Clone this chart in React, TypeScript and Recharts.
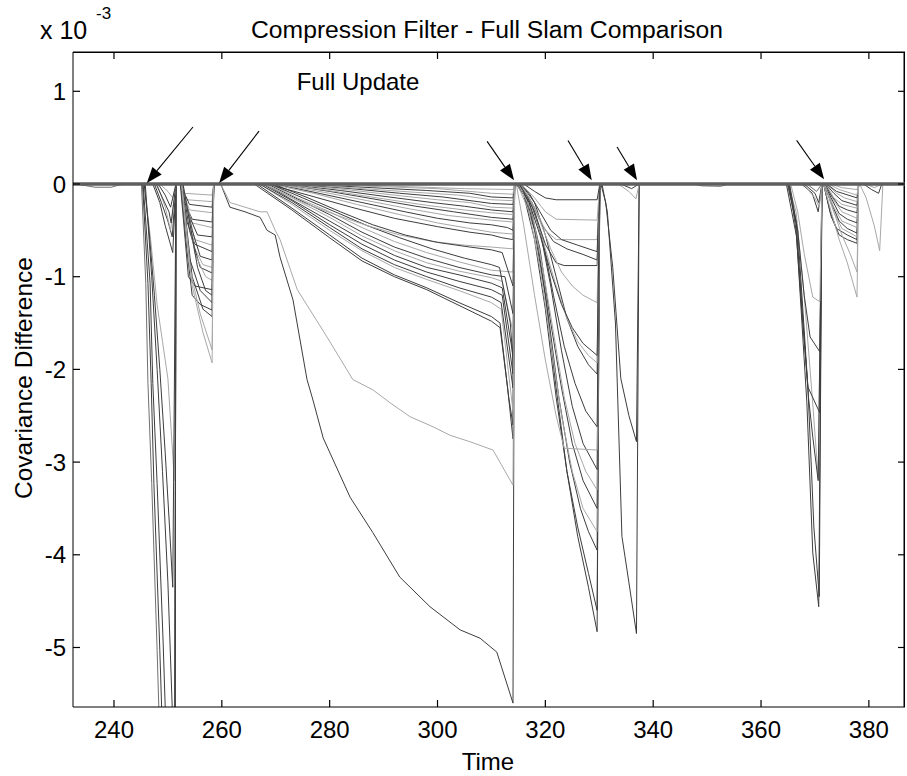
import React from 'react';
import { LineChart, Line, XAxis, YAxis, ReferenceLine, Customized } from 'recharts';

type Pt = [number, number];

const X_TICKS = [240, 260, 280, 300, 320, 340, 360, 380];
const Y_TICKS = [1, 0, -1, -2, -3, -4, -5];
const X_DOMAIN: [number, number] = [232.4, 386.7];
const Y_DOMAIN: [number, number] = [-5.642, 1.424];

const TITLE = 'Compression Filter - Full Slam Comparison';
const X_LABEL = 'Time';
const Y_LABEL = 'Covariance Difference';
const ANNOTATION = 'Full Update';

const BASELINE: Pt[][] = [[[232.4, 0], [386.7, 0]]];
const BASELINE_TONE = 'b';

const QUIET: Pt[][] = [
  [[233, 0], [234.5, -0.015], [236.5, -0.035], [239.5, -0.035], [241, -0.01], [242.5, 0]],
  [[347.5, 0], [349, -0.02], [352.5, -0.025], [354, 0]],
];
const QUIET_TONE = 'mm';

const SEG_B1: Pt[][] = [
  [[245.1, 0], [245.9, -1.07], [246.3, -2.15], [247.0, -3.23], [248.0, -5.03], [248.6, -6.2], [251.3, -6.2], [251.5, 0]],
  [[245.3, 0], [246.3, -1.07], [246.9, -2.15], [247.4, -3.23], [248.5, -5.03], [249.2, -6.3], [251.3, -6.3], [251.5, 0]],
  [[245.4, 0], [246.7, -1.07], [247.2, -2.15], [248.0, -3.23], [249.1, -4.92], [249.7, -6.0], [251.3, -6.0], [251.5, 0]],
  [[245.6, 0], [246.8, -0.6], [248, -1.3], [249, -1.7], [250, -2.1], [251.2, -3.2], [251.5, 0]],
  [[245.6, 0], [246.5, -0.5], [247.5, -1.2], [248.5, -2.0], [249.5, -2.9], [250.3, -3.7], [250.9, -4.35], [251.5, 0]],
  [[245.8, 0], [247, -1.0], [248, -2.0], [249, -3.1], [250, -4.3], [250.8, -5.64], [251.0, -6.1], [251.3, -6.1], [251.5, 0]],
];
const SEG_B1_TONE = 'mddgdd';

const SEG_B2: Pt[][] = [
  [[247.2, 0], [248.5, -0.2], [249.5, -0.45], [250.9, -0.74], [251.5, 0]],
  [[247.5, 0], [248.8, -0.2], [250, -0.4], [250.8, -0.57], [251.5, 0]],
  [[248, 0], [249.5, -0.25], [250.5, -0.5], [251.5, 0]],
  [[247.8, 0], [249, -0.15], [250.2, -0.3], [250.6, -0.42], [251.5, 0]],
  [[248.5, 0], [250, -0.08], [250.9, -0.15], [251.5, 0]],
  [[248.2, 0], [249.5, -0.12], [250.5, -0.25], [251.5, 0]],
];
const SEG_B2_TONE = 'ddgdgd';

const SEG_C: Pt[][] = [
  [[252.2, 0], [253, -0.1], [258.2, -0.12], [258.5, 0]],
  [[252.2, 0], [253.5, -0.17], [258.2, -0.19], [258.5, 0]],
  [[252.3, 0], [254, -0.22], [258.2, -0.25], [258.5, 0]],
  [[252.3, 0], [254, -0.28], [258.2, -0.31], [258.5, 0]],
  [[252.4, 0], [253.5, -0.25], [254.5, -0.38], [258.2, -0.41], [258.5, 0]],
  [[252.4, 0], [254.5, -0.42], [258.2, -0.47], [258.5, 0]],
  [[252.5, 0], [254, -0.35], [255.5, -0.55], [258.2, -0.57], [258.5, 0]],
  [[252.5, 0], [255, -0.6], [258.2, -0.66], [258.5, 0]],
  [[252.6, 0], [253.5, -0.4], [255, -0.65], [258.2, -0.73], [258.5, 0]],
  [[252.6, 0], [254.5, -0.5], [256, -0.78], [258.2, -0.82], [258.5, 0]],
  [[252.7, 0], [255, -0.7], [256.5, -0.87], [258.2, -0.9], [258.5, 0]],
  [[252.7, 0], [254, -0.5], [256, -0.9], [258.2, -0.96], [258.5, 0]],
  [[252.8, 0], [255, -0.75], [257, -1.0], [258.2, -1.04], [258.5, 0]],
  [[252.3, 0], [253.2, -0.6], [253.8, -1.0], [255, -1.1], [258.2, -1.14], [258.5, 0]],
  [[252.8, 0], [255.5, -0.9], [257, -1.15], [258.2, -1.2], [258.5, 0]],
  [[252.5, 0], [254, -0.8], [256, -1.15], [258.2, -1.28], [258.5, 0]],
  [[252.4, 0], [253.5, -0.7], [254.5, -1.2], [256, -1.3], [258.2, -1.36], [258.5, 0]],
  [[252.6, 0], [254.5, -1.0], [256.5, -1.35], [258.2, -1.43], [258.5, 0]],
  [[252.5, 0], [254, -0.9], [256, -1.4], [258.2, -1.79], [258.5, 0]],
  [[252.6, 0], [254.5, -1.1], [256.5, -1.6], [258.2, -1.93], [258.5, 0]],
];
const SEG_C_TONE = 'ggdgdgdgddgdgdddddgg';

const SEG_D_MAIN: Pt[][] = [
  [[259.8, 0], [261.5, -0.25], [264.3, -0.3], [267.1, -0.36], [268.4, -0.5], [269.9, -0.55], [270.8, -0.79], [273.2, -1.25], [275.8, -2.11], [276.9, -2.33], [278.8, -2.74], [283.8, -3.38], [288.0, -3.76], [293.0, -4.24], [298.6, -4.56], [304.2, -4.81], [307.9, -4.9], [311.0, -5.05], [314.0, -5.6], [314.3, 0]],
  [[259.8, 0], [261.5, -0.2], [267.1, -0.3], [268.4, -0.3], [269.9, -0.5], [270.8, -0.6], [274.0, -1.14], [279.5, -1.65], [284.3, -2.11], [288.0, -2.22], [291.2, -2.36], [294.9, -2.51], [299.2, -2.62], [302.3, -2.71], [306.0, -2.78], [310.3, -2.87], [314.0, -3.25], [314.3, 0]],
];
const SEG_D_MAIN_TONE = 'dg';

const SEG_D_LOW: Pt[][] = [
  [[266, 0], [273, -0.28], [280, -0.58], [286, -0.83], [292, -1.0], [298, -1.14], [304, -1.31], [310, -1.48], [311.6, -1.55], [313, -2.2], [314, -2.75], [314.3, 0]],
  [[266.5, 0], [273, -0.26], [280, -0.55], [286, -0.8], [292, -0.98], [298, -1.12], [304, -1.28], [310, -1.43], [311.6, -1.5], [313.2, -2.3], [314, -2.6], [314.3, 0]],
  [[267, 0], [273, -0.22], [280, -0.5], [286, -0.72], [292, -0.9], [298, -1.03], [304, -1.15], [310, -1.28], [311.8, -1.35], [314, -2.45], [314.3, 0]],
  [[267, 0], [273, -0.2], [280, -0.47], [286, -0.7], [292, -0.87], [298, -1.0], [304, -1.12], [310, -1.22], [311.8, -1.28], [314, -2.2], [314.3, 0]],
  [[267.5, 0], [273, -0.18], [280, -0.44], [286, -0.65], [292, -0.82], [298, -0.95], [304, -1.05], [310, -1.14], [312, -1.2], [314, -2.05], [314.3, 0]],
  [[268, 0], [273, -0.17], [280, -0.4], [286, -0.6], [292, -0.77], [298, -0.9], [304, -0.98], [310, -1.07], [312, -1.12], [314, -1.85], [314.3, 0]],
  [[268, 0], [274, -0.18], [280, -0.36], [286, -0.56], [292, -0.72], [298, -0.85], [304, -0.94], [310, -1.01], [312, -1.05], [314, -1.6], [314.3, 0]],
  [[268.5, 0], [274, -0.16], [280, -0.33], [286, -0.52], [292, -0.68], [298, -0.8], [304, -0.9], [310, -0.98], [312.5, -1.0], [314, -1.4], [314.3, 0]],
  [[269, 0], [274, -0.15], [280, -0.3], [286, -0.47], [292, -0.62], [298, -0.74], [304, -0.84], [310, -0.93], [314, -0.95], [314.3, 0]],
  [[269, 0], [275, -0.15], [281, -0.3], [287, -0.45], [293, -0.58], [299, -0.7], [305, -0.8], [310, -0.87], [311.5, -0.9], [313.5, -1.5], [314.1, -2.0], [314.3, 0]],
  [[268, 0], [275, -0.2], [281, -0.33], [287, -0.45], [293, -0.55], [299, -0.62], [305, -0.66], [310, -0.68], [314, -0.7], [314.3, 0]],
  [[269.5, 0], [276, -0.15], [282, -0.3], [288, -0.44], [294, -0.55], [300, -0.63], [306, -0.68], [310, -0.71], [312, -0.74], [314, -1.1], [314.3, 0]],
];
const SEG_D_LOW_TONE = 'ddgdddgdgdgd';

const SEG_D_HIGH: Pt[][] = [
  [[268.5, 0], [276, -0.12], [284, -0.25], [292, -0.37], [300, -0.46], [306, -0.52], [310, -0.55], [312, -0.58], [314, -0.6], [314.3, 0]],
  [[269, 0], [277, -0.1], [285, -0.22], [293, -0.33], [300, -0.42], [306, -0.48], [310, -0.52], [314, -0.54], [314.3, 0]],
  [[270, 0], [278, -0.1], [286, -0.2], [294, -0.3], [300, -0.37], [306, -0.42], [310, -0.44], [313, -0.47], [314, -0.5], [314.3, 0]],
  [[270, 0], [279, -0.09], [287, -0.18], [295, -0.27], [302, -0.34], [310, -0.39], [314, -0.41], [314.3, 0]],
  [[271, 0], [280, -0.08], [288, -0.16], [296, -0.24], [303, -0.3], [310, -0.36], [314, -0.38], [314.3, 0]],
  [[271, 0], [281, -0.08], [290, -0.16], [298, -0.23], [305, -0.28], [310, -0.31], [314, -0.33], [314.3, 0]],
  [[272, 0], [282, -0.07], [291, -0.14], [299, -0.2], [305, -0.24], [310, -0.28], [314, -0.3], [314.3, 0]],
  [[272, 0], [283, -0.06], [292, -0.12], [300, -0.17], [306, -0.2], [310, -0.25], [314, -0.26], [314.3, 0]],
  [[273, 0], [284, -0.05], [293, -0.1], [301, -0.14], [310, -0.21], [314, -0.22], [314.3, 0]],
  [[274, 0], [286, -0.05], [296, -0.09], [304, -0.12], [310, -0.17], [314, -0.18], [314.3, 0]],
  [[275, 0], [288, -0.04], [298, -0.07], [306, -0.1], [310, -0.14], [314, -0.15], [314.3, 0]],
  [[276, 0], [290, -0.03], [300, -0.05], [310, -0.1], [314, -0.11], [314.3, 0]],
  [[280, 0], [295, -0.03], [305, -0.05], [314, -0.06], [314.3, 0]],
];
const SEG_D_HIGH_TONE = 'dgdgdgdgdgdgg';

const SEG_E: Pt[][] = [
  [[314.6, 0], [316, -0.1], [318, -0.5], [320, -1.2], [322, -2.2], [324, -3.1], [326, -3.8], [328, -4.35], [329.6, -4.83], [330.1, 0]],
  [[314.6, 0], [316, -0.12], [318, -0.6], [320, -1.35], [322, -2.3], [324, -3.1], [326, -3.7], [328, -4.2], [329.6, -4.6], [330.1, 0]],
  [[314.7, 0], [316.5, -0.15], [318.5, -0.6], [320.5, -1.4], [322.5, -2.3], [324.5, -3.0], [326.5, -3.5], [328, -3.75], [329.6, -3.95], [330.1, 0]],
  [[314.8, 0], [317, -0.3], [319, -0.9], [321, -1.7], [323, -2.5], [325, -3.1], [327, -3.5], [329.6, -3.75], [330.1, 0]],
  [[314.8, 0], [317, -0.2], [319, -0.7], [321, -1.5], [323, -2.2], [325, -2.8], [327, -3.2], [329.6, -3.5], [330.1, 0]],
  [[315, 0], [317.5, -0.3], [319.5, -0.9], [321.5, -1.6], [323.5, -2.3], [325.5, -2.8], [327.5, -3.1], [329.6, -3.3], [330.1, 0]],
  [[315, 0], [317, -0.15], [319, -0.5], [321, -1.1], [323, -1.8], [325, -2.4], [327, -2.8], [329.6, -3.08], [330.1, 0]],
  [[314.6, 0], [316, -0.45], [318, -1.2], [320, -1.9], [322, -2.5], [323.5, -2.85], [329.6, -2.87], [330.1, 0]],
  [[315.2, 0], [317.5, -0.2], [319.5, -0.6], [321.5, -1.2], [323.5, -1.75], [325.5, -2.15], [327.5, -2.45], [329.6, -2.62], [330.1, 0]],
  [[315.5, 0], [318, -0.2], [320, -0.55], [322, -1.0], [324, -1.45], [326, -1.75], [328, -1.95], [329.6, -2.05], [330.1, 0]],
  [[315.5, 0], [318, -0.3], [320, -0.7], [322, -1.1], [324, -1.45], [326, -1.7], [328, -1.85], [329.6, -1.93], [330.1, 0]],
  [[315.5, 0], [318, -0.3], [320, -0.65], [322, -0.85], [323.5, -0.88], [329.6, -0.88], [330.1, 0]],
  [[315.3, 0], [317.5, -0.2], [319.5, -0.45], [321.5, -0.62], [324, -0.7], [327, -0.76], [329.6, -0.82], [330.1, 0]],
  [[315.5, 0], [318, -0.25], [320, -0.5], [322, -0.6], [329.6, -0.6], [330.1, 0]],
  [[315.2, 0], [317, -0.1], [319, -0.3], [321, -0.5], [323, -0.6], [326, -0.66], [329.6, -0.73], [330.1, 0]],
  [[315.5, 0], [318, -0.15], [320, -0.3], [322, -0.38], [329.6, -0.39], [330.1, 0]],
  [[316, 0], [318, -0.08], [320, -0.15], [322, -0.17], [329.6, -0.17], [330.1, 0]],
  [[315.3, 0], [317, -0.15], [319, -0.4], [321, -0.7], [323, -0.95], [325, -1.1], [327, -1.2], [329.6, -1.28], [330.1, 0]],
  [[315.2, 0], [317, -0.2], [319, -0.55], [321, -0.95], [323, -1.3], [325, -1.55], [327, -1.72], [329.6, -1.85], [330.1, 0]],
];
const SEG_E_TONE = 'dddgdgdgddgddgdgdgd';

const SEG_F: Pt[][] = [
  [[330.3, 0], [331.2, -0.2], [332.5, -0.9], [334, -2.1], [335.5, -2.5], [336.9, -2.78], [337.4, 0]],
  [[330.5, 0], [331.5, -0.3], [333, -1.5], [334.2, -3.8], [335.5, -4.3], [336.9, -4.85], [337.4, 0]],
  [[333.5, 0], [335.5, -0.08], [336.8, -0.16], [337.4, 0]],
  [[334, 0], [336, -0.05], [337.4, 0]],
];
const SEG_F_TONE = 'ddgd';

const SEG_H: Pt[][] = [
  [[364.7, 0], [366.6, -0.57], [368.5, -2.36], [369.6, -3.98], [370.7, -4.56], [371.3, 0]],
  [[364.9, 0], [366.8, -0.5], [368.7, -2.2], [369.8, -3.7], [370.8, -4.45], [371.3, 0]],
  [[365, 0], [366.5, -0.3], [368, -1.2], [369.5, -2.3], [370.6, -3.17], [371.3, 0]],
  [[365, 0], [366.5, -0.4], [367.8, -1.5], [368.8, -2.3], [369.6, -2.73], [370.6, -3.2], [371.3, 0]],
  [[365.2, 0], [366.5, -0.5], [367.6, -1.4], [368.7, -2.19], [370.9, -2.47], [371.3, 0]],
  [[365.3, 0], [366.8, -0.5], [368, -1.2], [369.1, -1.65], [370.9, -1.81], [371.3, 0]],
  [[365.5, 0], [366.8, -0.3], [368, -0.75], [369.6, -1.22], [370.9, -1.27], [371.3, 0]],
  [[367.5, 0], [369.5, -0.1], [370.6, -0.3], [371.3, 0]],
  [[368, 0], [370, -0.1], [370.7, -0.2], [371.3, 0]],
  [[368.5, 0], [370.3, -0.08], [371.3, 0]],
  [[367.8, 0], [370, -0.15], [370.8, -0.25], [371.3, 0]],
];
const SEG_H_TONE = 'ddgdddgddmg';

const SEG_I: Pt[][] = [
  [[371.6, 0], [373, -0.35], [374.5, -0.55], [376, -0.6], [377.8, -0.64], [378.1, 0]],
  [[371.6, 0], [372.8, -0.3], [374, -0.48], [376, -0.55], [377.8, -0.6], [378.1, 0]],
  [[371.7, 0], [373.5, -0.3], [375, -0.48], [377.8, -0.57], [378.1, 0]],
  [[371.7, 0], [373, -0.2], [374.5, -0.4], [376, -0.48], [377.8, -0.53], [378.1, 0]],
  [[371.8, 0], [373.5, -0.25], [375, -0.4], [377.8, -0.47], [378.1, 0]],
  [[371.8, 0], [373, -0.15], [374.5, -0.32], [376, -0.38], [377.8, -0.42], [378.1, 0]],
  [[371.9, 0], [373.5, -0.18], [375, -0.3], [377.8, -0.37], [378.1, 0]],
  [[371.9, 0], [373, -0.12], [374.5, -0.24], [376, -0.28], [377.8, -0.31], [378.1, 0]],
  [[372, 0], [373.5, -0.15], [375, -0.22], [377.8, -0.26], [378.1, 0]],
  [[372, 0], [373.5, -0.1], [375, -0.18], [377.8, -0.23], [378.1, 0]],
  [[372.2, 0], [374, -0.1], [375.5, -0.15], [377.8, -0.19], [378.1, 0]],
  [[372.2, 0], [374, -0.08], [377.8, -0.15], [378.1, 0]],
  [[372.5, 0], [374.5, -0.06], [377.8, -0.12], [378.1, 0]],
  [[373, 0], [375, -0.04], [377.8, -0.06], [378.1, 0]],
  [[371.6, 0], [373, -0.3], [374.5, -0.6], [376, -0.85], [377.8, -1.22], [378.1, 0]],
  [[371.8, 0], [373.5, -0.3], [375, -0.55], [376.5, -0.75], [377.8, -0.95], [378.1, 0]],
];
const SEG_I_TONE = 'ddgdgdgdgdgdgggg';

const SEG_J: Pt[][] = [
  [[378.3, 0], [379.5, -0.15], [381, -0.45], [382, -0.72], [382.6, 0]],
  [[379, 0], [380.5, -0.06], [381.8, -0.1], [382.4, 0]],
  [[379.5, 0], [381, -0.04], [382.5, 0]],
];
const SEG_J_TONE = 'gdg';

// arrows: [fromTime, fromValue, toTime, toValue]
const ARROWS: [number, number, number, number][] = [
  [254.65, 0.615, 246.1, 0.01],
  [266.9, 0.57, 259.5, 0.01],
  [309.2, 0.46, 314.2, 0.04],
  [324.2, 0.47, 328.6, 0.04],
  [333.3, 0.4, 337.0, 0.04],
  [366.6, 0.47, 371.7, 0.05],
];

const TONES: Record<string, { c: string; w: number }> = {
  d: { c: '#3d3d3d', w: 1 },
  g: { c: '#a8a8a8', w: 1 },
  m: { c: '#707070', w: 1 },
  b: { c: '#5e5e5e', w: 3.5 },
};

const GROUPS: { series: Pt[][]; tone: string }[] = [
  { series: QUIET, tone: QUIET_TONE },
  { series: SEG_B1, tone: SEG_B1_TONE },
  { series: SEG_B2, tone: SEG_B2_TONE },
  { series: SEG_C, tone: SEG_C_TONE },
  { series: SEG_D_HIGH, tone: SEG_D_HIGH_TONE },
  { series: SEG_D_LOW, tone: SEG_D_LOW_TONE },
  { series: SEG_D_MAIN, tone: SEG_D_MAIN_TONE },
  { series: SEG_E, tone: SEG_E_TONE },
  { series: SEG_F, tone: SEG_F_TONE },
  { series: SEG_H, tone: SEG_H_TONE },
  { series: SEG_I, tone: SEG_I_TONE },
  { series: SEG_J, tone: SEG_J_TONE },
  { series: BASELINE, tone: BASELINE_TONE },
];

// chart layout
const CHART_W = 907;
const CHART_H = 776;
const MARGIN = { top: 52, right: 2, bottom: 0, left: 0 };
const Y_AXIS_W = 73;
const X_AXIS_H = 69;
const PLOT_X = MARGIN.left + Y_AXIS_W;
const PLOT_Y = MARGIN.top;
const PLOT_W = CHART_W - MARGIN.left - MARGIN.right - Y_AXIS_W;
const PLOT_H = CHART_H - MARGIN.top - MARGIN.bottom - X_AXIS_H;
const TICK_PX = 7;

const [XMIN, XMAX] = X_DOMAIN;
const [YMIN, YMAX] = Y_DOMAIN;
const TDX = ((XMAX - XMIN) * TICK_PX) / PLOT_W;
const TDY = ((YMAX - YMIN) * TICK_PX) / PLOT_H;
const TICK_PATHS: Pt[][] = [
  ...X_TICKS.map((t): Pt[] => [[t, YMIN], [t, YMIN + TDY]]),
  ...X_TICKS.map((t): Pt[] => [[t, YMAX], [t, YMAX - TDY]]),
  ...Y_TICKS.map((v): Pt[] => [[XMIN, v], [XMIN + TDX, v]]),
  ...Y_TICKS.map((v): Pt[] => [[XMAX, v], [XMAX - TDX, v]]),
];

const FONT = '"Liberation Sans", Arial, Helvetica, sans-serif';

const bad = (...v: any[]) => v.some((n) => typeof n !== 'number' || isNaN(n));

const ArrowShape = (p: any) => {
  const { x1, y1, x2, y2 } = p;
  if (bad(x1, y1, x2, y2)) return <g />;
  const dx = x2 - x1;
  const dy = y2 - y1;
  const len = Math.hypot(dx, dy) || 1;
  const ux = dx / len;
  const uy = dy / len;
  const L = 16;
  const W = 6;
  const bx = x2 - ux * L;
  const by = y2 - uy * L;
  const pts = `${x2},${y2} ${bx - uy * W},${by + ux * W} ${bx + uy * W},${by - ux * W}`;
  return (
    <g>
      <line x1={x1} y1={y1} x2={bx} y2={by} stroke="#000" strokeWidth={1.1} />
      <polygon points={pts} fill="#000" />
    </g>
  );
};

const XTick = (p: any) => (
  <text x={p.x} y={p.y + 31} textAnchor="middle" fontFamily={FONT} fontSize={24} fill="#000">
    {p.payload.value}
  </text>
);

const YTick = (p: any) => (
  <text x={p.x - 7} y={p.y + 8.5} textAnchor="end" fontFamily={FONT} fontSize={24} fill="#000">
    {p.payload.value}
  </text>
);

// texts plus the closed axes box, drawn as filled 1px bars
const Texts = () => (
  <g fontFamily={FONT} fill="#000">
    <rect x={PLOT_X} y={PLOT_Y - 0.5} width={PLOT_W} height={1.5} fill="#000" stroke="none" />
    <rect x={PLOT_X + PLOT_W - 1.5} y={PLOT_Y} width={1.5} height={PLOT_H} fill="#000" stroke="none" />
    <text x={487} y={38} fontSize={24.7} textAnchor="middle">{TITLE}</text>
    <text x={40} y={39} fontSize={25}>x 10</text>
    <text x={96} y={19} fontSize={17}>-3</text>
    <text x={358} y={90} fontSize={24} textAnchor="middle">{ANNOTATION}</text>
    <text x={488} y={770} fontSize={24} textAnchor="middle">{X_LABEL}</text>
    <text transform="translate(32,378) rotate(-90)" x={0} y={0} fontSize={24.5} textAnchor="middle">{Y_LABEL}</text>
  </g>
);

export default function App() {
  return (
    <div style={{ position: 'absolute', left: 0, top: 0, width: CHART_W, height: CHART_H, background: '#fff' }}>
      <LineChart width={CHART_W} height={CHART_H} margin={MARGIN}>
        <XAxis
          xAxisId="x"
          type="number"
          dataKey="t"
          domain={X_DOMAIN}
          allowDataOverflow
          ticks={X_TICKS}
          height={X_AXIS_H}
          tickSize={0}
          tickMargin={0}
          tickLine={false}
          tick={<XTick />}
          axisLine={{ stroke: '#000' }}
        />
        <YAxis
          yAxisId="y"
          type="number"
          domain={Y_DOMAIN}
          allowDataOverflow
          ticks={Y_TICKS}
          width={Y_AXIS_W}
          tickSize={0}
          tickMargin={0}
          tickLine={false}
          tick={<YTick />}
          axisLine={{ stroke: '#000' }}
        />
        {GROUPS.flatMap((g, gi) =>
          g.series.map((s, si) => {
            const tone = TONES[g.tone[si]] || TONES.d;
            return (
              <Line
                key={`l-${gi}-${si}`}
                xAxisId="x"
                yAxisId="y"
                data={s.map(([t, v]) => ({ t, v }))}
                dataKey="v"
                type="linear"
                stroke={tone.c}
                strokeWidth={tone.w}
                dot={false}
                activeDot={false}
                legendType="none"
                isAnimationActive={false}
              />
            );
          })
        )}
        {TICK_PATHS.map((s, i) => (
          <Line
            key={`k-${i}`}
            xAxisId="x"
            yAxisId="y"
            data={s.map(([t, v]) => ({ t, v }))}
            dataKey="v"
            type="linear"
            stroke="#000"
            strokeWidth={1.2}
            dot={false}
            activeDot={false}
            legendType="none"
            isAnimationActive={false}
          />
        ))}
        {ARROWS.map((a, i) => (
          <ReferenceLine
            key={`a-${i}`}
            xAxisId="x"
            yAxisId="y"
            segment={[{ x: a[0], y: a[1] }, { x: a[2], y: a[3] }]}
            ifOverflow="visible"
            shape={ArrowShape}
          />
        ))}
        <Customized component={Texts} />
      </LineChart>
    </div>
  );
}
